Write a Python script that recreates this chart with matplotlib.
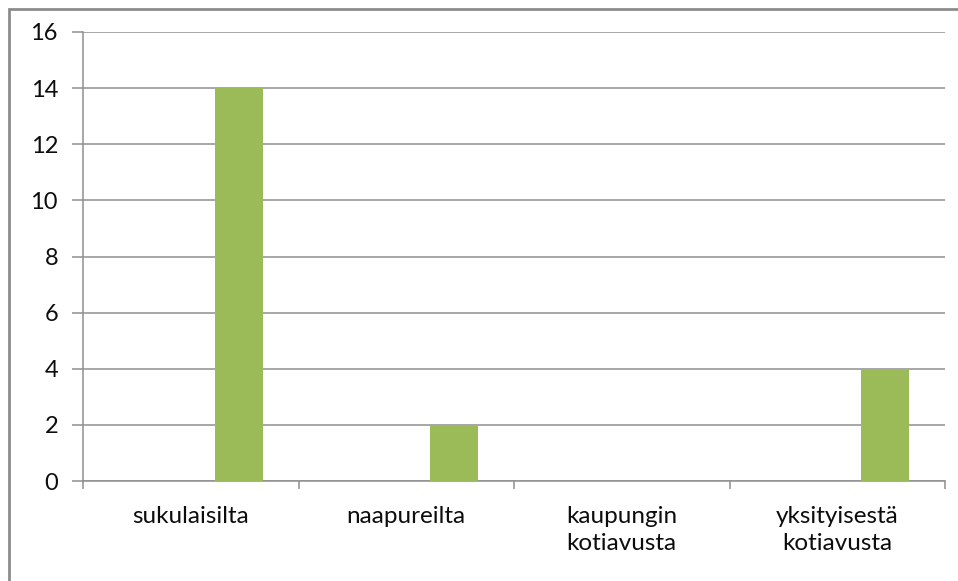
import matplotlib
matplotlib.use("Agg")
import matplotlib.pyplot as plt
from matplotlib.patches import Rectangle
import numpy as np

categories = ["sukulaisilta", "naapureilta", "kaupungin\nkotiavusta", "yksityisestä\nkotiavusta"]
values = [14, 2, 0, 4]
y_ticks = [0, 2, 4, 6, 8, 10, 12, 14, 16]

W, H = 958, 581
fig = plt.figure(figsize=(W / 100, H / 100), dpi=100)
fig.patch.set_facecolor("white")

# outer chart-area frame (only top and left edges visible)
fig.patches.append(Rectangle((9 / W, -0.1), 1.2, 1 - 9 / H + 0.1,
                             transform=fig.transFigure, fill=False,
                             edgecolor="#8c8c8c", linewidth=2))

ax = fig.add_axes([83 / W, (H - 481) / H, (945 - 83) / W, (481 - 32) / H])

grid_c = "#8f8f8f"
text_c = "#0d0d0d"
n_series = 3
width = 1 / (n_series + 1.5)
x = np.arange(len(categories))
ax.bar(x + width, values, width=width, color="#9BBB59", zorder=3)

ax.set_xlim(-0.5, len(categories) - 0.5)
ax.set_ylim(0, 16)
ax.set_yticks(y_ticks)
ax.set_yticklabels([str(v) for v in y_ticks])
ax.yaxis.grid(True, color=grid_c, linewidth=1.1)
ax.set_axisbelow(True)

for s in ["top", "right"]:
    ax.spines[s].set_visible(False)
for s in ["left", "bottom"]:
    ax.spines[s].set_color(grid_c)
    ax.spines[s].set_linewidth(1.1)

# category tick marks at the boundaries, labels centred in each category
ax.set_xticks(np.arange(len(categories) + 1) - 0.5)
ax.set_xticklabels([])
ax.set_xticks(x, minor=True)
ax.set_xticklabels(categories, minor=True, fontsize=17.5, family="Lato",
                   color=text_c, linespacing=1.35)
ax.tick_params(axis="x", which="minor", length=0, pad=18)
ax.tick_params(axis="x", which="major", length=6, color=grid_c, width=1.1)
ax.tick_params(axis="y", length=8, color=grid_c, width=1.1, pad=10,
               labelsize=17, labelcolor=text_c)
for lab in ax.get_yticklabels():
    lab.set_family("Lato")

fig.savefig("out.png", dpi=100)
